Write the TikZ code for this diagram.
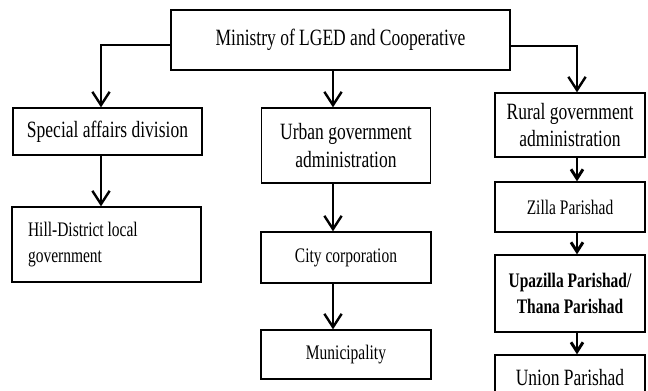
\documentclass[tikz,border=0pt]{standalone}
\usepackage{fontspec}
\setmainfont{Liberation Serif}[FakeStretch=0.75]
\usetikzlibrary{arrows.meta}

\tikzset{
  box/.style={draw, line width=1pt, inner sep=0pt, align=center},
  link/.style={line width=1.8pt, -{Straight Barb[length=10pt,width=13pt,line width=1.8pt]}},
  shortlink/.style={line width=2pt, -{Straight Barb[length=7pt,width=9pt,line width=2.2pt]}},
  bigtxt/.style={font=\fontsize{17.5}{20.5}\selectfont},
  smalltxt/.style={font=\fontsize{15.5}{20}\selectfont}
}

\begin{document}
\begin{tikzpicture}[x=0.75pt,y=0.75pt,yscale=-1,xscale=1]
	\useasboundingbox (0,0) rectangle (648,391);

	% Top box
	\node [box, bigtxt, minimum width=254.25pt, minimum height=45pt] (ministry) at (340.5,40) {Ministry of LGED and Cooperative};

	% Left column
	\node [box, bigtxt, minimum width=141.75pt, minimum height=35.25pt] (special) at (107.5,131.5) {Special affairs division};
	\node [box, smalltxt, text width=117.75pt, align=flush left, inner xsep=12pt, minimum height=56.25pt] (hill) at (106.5,244.5) {Hill-District local\\government};

	% Middle column
	\node [box, bigtxt, minimum width=126.75pt, minimum height=56.25pt] (urban) at (346,145.5) {Urban government\\administration};
	\node [box, smalltxt, minimum width=127.5pt, minimum height=38.25pt] (city) at (346,257.5) {City corporation};
	\node [box, smalltxt, minimum width=127.5pt, minimum height=36.75pt] (muni) at (346,354.5) {Municipality};

	% Right column
	\node [box, bigtxt, minimum width=112.5pt, minimum height=48pt] (rural) at (570,125) {Rural government\\administration};
	\node [box, smalltxt, minimum width=112.5pt, minimum height=37.5pt] (zilla) at (570,207) {Zilla Parishad};
	\node [box, smalltxt, font=\fontsize{15.5}{19.5}\selectfont\bfseries, minimum width=112.5pt, minimum height=57.75pt] (upazilla) at (570,293.5) {Upazilla Parishad/\\Thana Parishad};
	\node [box, font=\fontsize{17.5}{21}\selectfont, minimum width=112.5pt, minimum height=34.5pt] (union) at (570,378) {Union Parishad};

	% Column lines
	\coordinate (leftcol) at (101,0);
	\coordinate (midcol) at (333,0);
	\coordinate (rightcol) at (577,0);

	%Straight Lines
	\draw [link] ([yshift=3.75pt]ministry.west) -| (special.north -| leftcol);
	\draw [link] (ministry.south -| midcol) -- (urban.north -| midcol);
	\draw [link] ([yshift=4.5pt]ministry.east) -| (rural.north -| rightcol);
	\draw [link] (special.south -| leftcol) -- (hill.north -| leftcol);
	\draw [link] (urban.south -| midcol) -- (city.north -| midcol);
	\draw [link] (city.south -| midcol) -- (muni.north -| midcol);
	\draw [shortlink] (rural.south -| rightcol) -- (zilla.north -| rightcol);
	\draw [shortlink] (zilla.south -| rightcol) -- (upazilla.north -| rightcol);
	\draw [shortlink] (upazilla.south -| rightcol) -- (union.north -| rightcol);

\end{tikzpicture}
\end{document}
